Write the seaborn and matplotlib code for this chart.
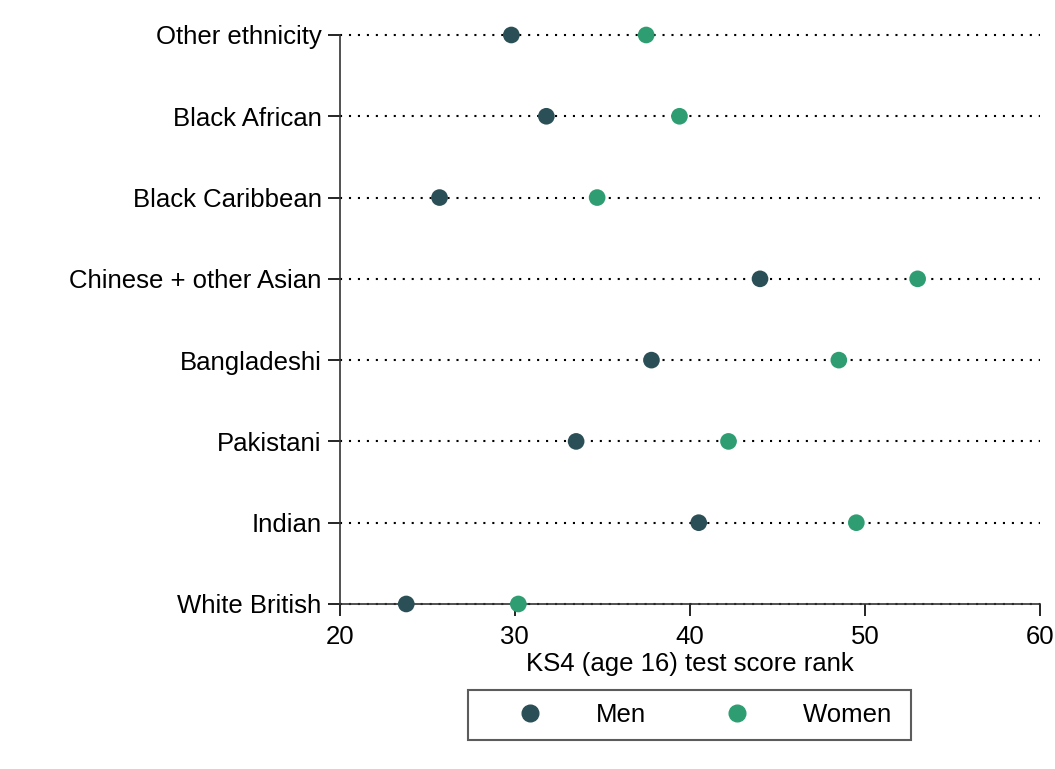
import numpy as np
import pandas as pd
import matplotlib
matplotlib.use('Agg')
import matplotlib.pyplot as plt
import seaborn as sns
from matplotlib.lines import Line2D

# data, top to bottom as drawn
groups = ['Other ethnicity', 'Black African', 'Black Caribbean', 'Chinese + other Asian',
		  'Bangladeshi', 'Pakistani', 'Indian', 'White British']
men = [29.8, 31.8, 25.7, 44.0, 37.8, 33.5, 40.5, 23.8]
women = [37.5, 39.4, 34.7, 53.0, 48.5, 42.2, 49.5, 30.2]
x_ticks = [20, 30, 40, 50, 60]

df = pd.DataFrame({
	'group': groups * 2,
	'score': men + women,
	'sex': ['Men'] * len(groups) + ['Women'] * len(groups),
})

sns.set_theme(style='white')
plt.rcParams['font.family'] = ['Liberation Sans', 'DejaVu Sans']

col_men = '#2b4f56'
col_women = '#2e9e72'
fs = 18.5

fig = plt.figure(figsize=(10.55, 7.69), dpi=100)
ax = fig.add_axes([0.322, 0.2146, 0.664, 0.7399])

# dotted guide lines for each category
for i in range(len(groups)):
	ax.axhline(i, color='black', linestyle=(0, (1, 3.3)), linewidth=1.5, zorder=1, clip_on=False)

sns.stripplot(data=df, x='score', y='group', hue='sex', order=groups,
			  palette={'Men': col_men, 'Women': col_women}, jitter=False,
			  size=12, linewidth=0, ax=ax, zorder=3, legend=False)
for c in ax.collections:
	c.set_clip_on(False)

ax.set_xlim(20, 60)
ax.set_ylim(len(groups) - 1, 0)
ax.set_xticks(x_ticks)
ax.set_xticklabels([str(t) for t in x_ticks])
ax.set_xlabel('KS4 (age 16) test score rank', fontsize=fs, labelpad=2, color='black')
ax.set_ylabel('')
ax.tick_params(axis='both', labelsize=fs, colors='black', direction='out',
			   length=8.5, width=1.2, bottom=True, left=True, pad=6.5)
ax.tick_params(axis='y', length=8.5, pad=4.5)
for s in ['top', 'right']:
	ax.spines[s].set_visible(False)
for s in ['left', 'bottom']:
	ax.spines[s].set_color('#333333')
	ax.spines[s].set_linewidth(1.2)
ax.grid(False)

handles = [Line2D([], [], marker='o', linestyle='', color=col_men, markersize=12),
		   Line2D([], [], marker='o', linestyle='', color=col_women, markersize=12)]
leg = fig.legend(handles, ['Men', 'Women '], loc='center', bbox_to_anchor=(0.6536, 0.070),
				 ncol=2, fontsize=fs, frameon=True, fancybox=False,
				 handletextpad=0.66, columnspacing=1.65, borderpad=0.5,
				 handlelength=3.8)
leg.get_frame().set_edgecolor('#333333')
leg.get_frame().set_linewidth(1.5)
for t in leg.get_texts():
	t.set_color('black')

fig.savefig('out.png', dpi=100)
